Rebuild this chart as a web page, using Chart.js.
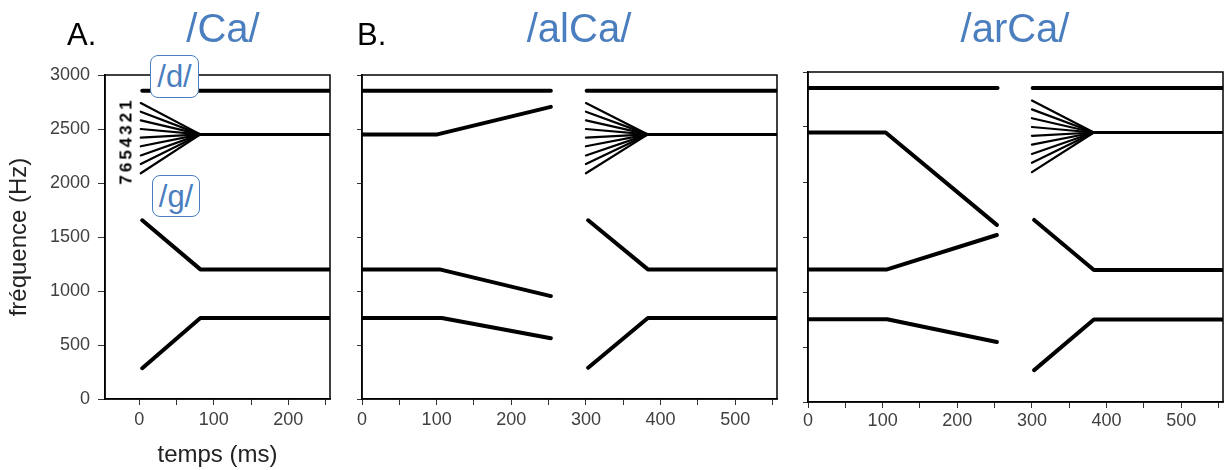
<!DOCTYPE html>
<html>
<head>
<meta charset="utf-8">
<script src="https://cdn.jsdelivr.net/npm/chart.js@4/dist/chart.umd.min.js"></script>
<style>
html,body{margin:0;padding:0;background:#fff;}
#wrap{position:relative;width:1226px;height:470px;overflow:hidden;font-family:'Liberation Sans',Arial,sans-serif;}
canvas{position:absolute;top:0;}
.t{position:absolute;line-height:1;white-space:nowrap;}
.panel{color:#000;font-size:31px;}
.ttl{color:#4a7ebf;font-size:40px;width:300px;text-align:center;}
.box{position:absolute;box-sizing:border-box;border:1.5px solid #4a7ebf;border-radius:8px;background:#fff;color:#4a7ebf;font-size:31px;line-height:1;display:flex;align-items:center;justify-content:center;}
.digits{position:absolute;font-size:17px;font-weight:bold;letter-spacing:3px;color:#000;line-height:1;transform:translate(-50%,-50%) rotate(-90deg);white-space:nowrap;}
</style>
</head>
<body>
<div id="wrap">
  <canvas id="cA" width="345" height="470" style="left:0px"></canvas>
  <canvas id="cB" width="445" height="470" style="left:340px"></canvas>
  <canvas id="cC" width="441" height="470" style="left:785px"></canvas>

  <div class="t panel" style="left:67px;top:19px;">A.</div>
  <div class="t panel" style="left:357px;top:19px;">B.</div>
  <div class="t ttl" style="left:73px;top:8px;">/Ca/</div>
  <div class="t ttl" style="left:429px;top:8px;">/alCa/</div>
  <div class="t ttl" style="left:865px;top:8px;">/arCa/</div>

  <div class="box" style="left:150px;top:55px;width:49px;height:43px;">/d/</div>
  <div class="box" style="left:152px;top:175px;width:48px;height:42px;">/g/</div>
  <div class="digits" style="left:126px;top:141px;">7654321</div>
</div>

<script>
// ---------- ticks ----------
const freqTicks = [0, 500, 1000, 1500, 2000, 2500, 3000];
const freqTickLabels = [0, 500, 1000, 1500, 2000, 2500, 3000];
const timeTicksA = [0, 50, 100, 150, 200, 250];
const timeTickLabelsA = [0, 100, 200];
const timeTicksBC = [0, 50, 100, 150, 200, 250, 300, 350, 400, 450, 500, 550];
const timeTickLabelsBC = [0, 100, 200, 300, 400, 500];

// ---------- A. /Ca/  (time ms, frequency Hz) ----------
const caF3 = [[4, 2855], [256, 2855]];
const caF2 = [[82, 2450], [256, 2450]];
const caFanTime = [2, 82];
const caFanStart = [2740, 2660, 2580, 2500, 2420, 2340, 2255, 2175, 2090];
const caFanEnd = 2450;
const caG = [[4, 1655], [82, 1200], [256, 1200]];
const caF1 = [[4, 285], [82, 750], [256, 750]];

// ---------- second syllable /Ca/ in B and C ----------
const ca2F3 = [[301, 2855], [556, 2855]];
const ca2F2 = [[383, 2450], [556, 2450]];
const ca2FanTime = [300, 383];
const ca2FanStart = [2740, 2660, 2580, 2500, 2420, 2340, 2255, 2175, 2090];
const ca2FanEnd = 2450;
const ca2G = [[303, 1655], [383, 1200], [556, 1200]];
const ca2F1 = [[303, 290], [383, 750], [556, 750]];

// ---------- B. /al/ first syllable ----------
const alF3 = [[0, 2855], [253, 2855]];
const alF2 = [[0, 2450], [101, 2450], [253, 2705]];
const alMid = [[0, 1200], [104, 1200], [253, 953]];
const alF1 = [[0, 750], [107, 750], [253, 563]];

// ---------- C. /ar/ first syllable ----------
const arF3 = [[0, 2855], [254, 2855]];
const arF2 = [[0, 2450], [104, 2450], [253, 1610]];
const arMid = [[0, 1205], [106, 1205], [253, 1518]];
const arF1 = [[0, 752], [106, 752], [253, 545]];

// ---------- helpers ----------
Chart.defaults.font.family = "'Liberation Sans', Arial, sans-serif";

function track(points, width) {
  return {
    data: points.map(p => ({x: p[0], y: p[1]})),
    showLine: true, pointRadius: 0, borderColor: '#000', backgroundColor: '#000',
    borderWidth: width, borderCapStyle: 'round', borderJoinStyle: 'round', tension: 0, fill: false
  };
}
function fan(times, starts, end) {
  return starts.map(s => track([[times[0], s], [times[1], end]], 2.2));
}

const boxPlugin = {
  id: 'box',
  afterDatasetsDraw(chart) {
    const {ctx, chartArea: a} = chart;
    ctx.save();
    ctx.strokeStyle = '#000';
    ctx.lineWidth = 1.5;
    ctx.strokeRect(a.left, a.top, a.right - a.left, a.bottom - a.top);
    ctx.restore();
  }
};

function makeChart(id, datasets, cfg) {
  return new Chart(document.getElementById(id), {
    type: 'scatter',
    data: {datasets},
    plugins: [boxPlugin],
    options: {
      responsive: false, animation: false, devicePixelRatio: 1,
      layout: {padding: {left: 0, right: cfg.padRight, top: cfg.padTop, bottom: 0}},
      plugins: {legend: {display: false}, tooltip: {enabled: false}, title: {display: false}},
      scales: {
        x: {
          type: 'linear', min: cfg.xMin, max: cfg.xMax,
          afterBuildTicks: s => { s.ticks = cfg.xTicks.map(v => ({value: v})); },
          afterFit: s => { s.height = cfg.xHeight; },
          grid: {display: true, drawOnChartArea: false, drawTicks: true, tickLength: 6, tickColor: '#333', tickWidth: 1},
          border: {display: true, color: '#000', width: 1.5},
          ticks: {
            autoSkip: false, maxRotation: 0, minRotation: 0,
            padding: cfg.xTickPad, color: '#404040', font: {size: 18},
            callback: v => cfg.xLabels.includes(v) ? String(v) : ''
          },
          title: cfg.xTitle ? {display: true, text: cfg.xTitle, color: '#222', font: {size: 24}, padding: {top: 0, bottom: 0}} : {display: false}
        },
        y: {
          type: 'linear', min: 0, max: 3000,
          afterBuildTicks: s => { s.ticks = freqTicks.map(v => ({value: v})); },
          afterFit: s => { s.width = cfg.yWidth; },
          grid: {display: true, drawOnChartArea: false, drawTicks: true, tickLength: cfg.yTickLen, tickColor: '#333', tickWidth: 1},
          border: {display: true, color: '#000', width: 1.5},
          ticks: {
            autoSkip: false, padding: 8, color: '#404040', font: {size: 18},
            callback: v => cfg.yLabels.includes(v) ? String(v) : ''
          },
          title: cfg.yTitle ? {display: true, text: cfg.yTitle, color: '#222', font: {size: 24}, padding: {top: 5, bottom: 0}} : {display: false}
        }
      }
    }
  });
}

// ---------- Panel A ----------
makeChart('cA', [
  track(caF3, 4), track(caF2, 3), ...fan(caFanTime, caFanStart, caFanEnd),
  track(caG, 4), track(caF1, 4)
], {xMin: -46, xMax: 256, xTicks: timeTicksA, xLabels: timeTickLabelsA, yLabels: freqTickLabels,
    padTop: 75, padRight: 15, yWidth: 105, xHeight: 71, yTickLen: 7, xTickPad: 4,
    xTitle: 'temps (ms)', yTitle: 'fréquence (Hz)'});

// ---------- Panel B ----------
makeChart('cB', [
  track(alF3, 4), track(alF2, 4), track(alMid, 4), track(alF1, 4),
  track(ca2F3, 4), track(ca2F2, 3), ...fan(ca2FanTime, ca2FanStart, ca2FanEnd),
  track(ca2G, 4), track(ca2F1, 4)
], {xMin: 0, xMax: 556, xTicks: timeTicksBC, xLabels: timeTickLabelsBC, yLabels: [],
    padTop: 75, padRight: 8, yWidth: 22, xHeight: 71, yTickLen: 5, xTickPad: 4});

// ---------- Panel C ----------
makeChart('cC', [
  track(arF3, 4), track(arF2, 4), track(arMid, 4), track(arF1, 4),
  track(ca2F3, 4), track(ca2F2, 3), ...fan(ca2FanTime, ca2FanStart, ca2FanEnd),
  track(ca2G, 4), track(ca2F1, 4)
], {xMin: 0, xMax: 556, xTicks: timeTicksBC, xLabels: timeTickLabelsBC, yLabels: [],
    padTop: 72, padRight: 3, yWidth: 23, xHeight: 68, yTickLen: 5, xTickPad: 2});
</script>
</body>
</html>
